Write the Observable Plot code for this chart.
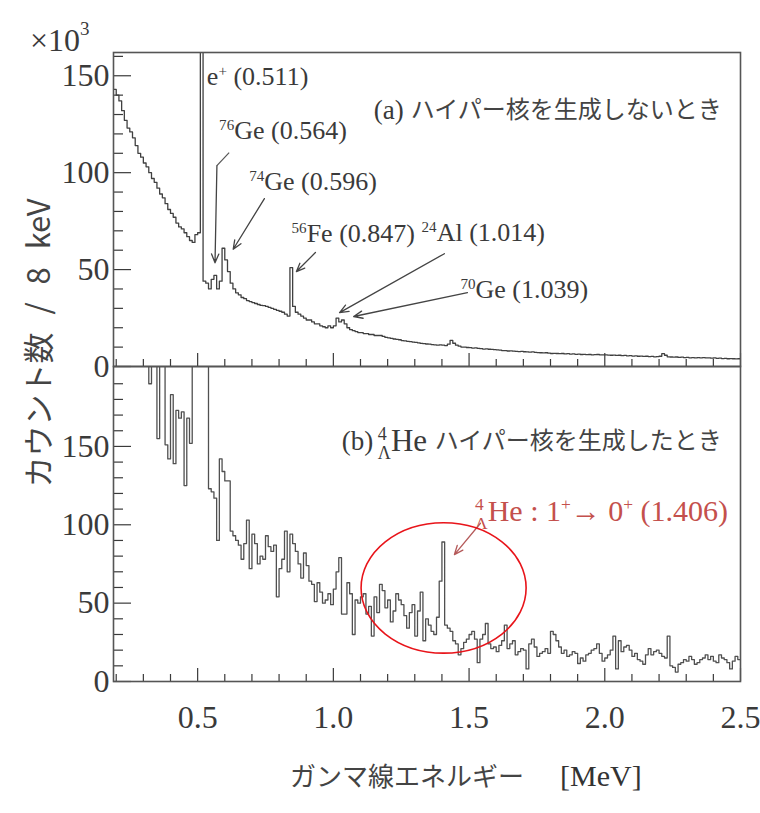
<!DOCTYPE html>
<html><head><meta charset="utf-8">
<script src="https://cdn.jsdelivr.net/npm/d3@7"></script>
<script src="https://cdn.jsdelivr.net/npm/@observablehq/plot@0.6"></script>
<style>
body{margin:0;background:#fff;}
#wrap{position:relative;width:760px;height:813px;overflow:hidden;}
#top{position:absolute;left:0;top:0;z-index:2;}
#bot{position:absolute;left:0;top:366px;z-index:1;}
.lab{position:absolute;white-space:nowrap;color:#3a3a3a;line-height:1;z-index:5;}
#exp{left:30px;top:22px;font:32px 'Liberation Serif',serif;}
#exp sup{font-size:19px;vertical-align:top;position:relative;top:-4px;}
#ytitle{left:36px;top:343px;transform:translate(-50%,-50%) rotate(-90deg);font:31px 'Noto Sans CJK JP',sans-serif;word-spacing:11px;color:#444;}
#xtitle{left:290px;top:756px;}
#xtitle .jp{font:26px 'Noto Sans CJK JP',sans-serif;color:#444;}
#xtitle .mev{font:30px 'Liberation Serif',serif;margin-left:36px;color:#333;}
</style></head><body>
<div id="wrap">
  <div id="top"></div>
  <div id="bot"></div>
  <div class="lab" id="exp">×10<sup>3</sup></div>
  <div class="lab" id="ytitle">カウント数 / 8 keV</div>
  <div class="lab" id="xtitle"><span class="jp">ガンマ線エネルギー</span><span class="mev">[MeV]</span></div>
</div>
<script>
// ---- data ----
const energyStart = 0.19;   // MeV, left edge of first bin
const binWidth = 0.01;      // MeV
// (a) without hypernucleus production, counts x10^3 per bin
const countsA = [
143,140,137,132,127,123,121,118,114,110,
108,105,103,100,97,95,92,89,87,84,
81,79,77,74,72,71,69,67,65,64,
68,69,400,44,43,40,45,47,40,44,
61,55,49,43,40,38,37,35.6,35,34,
33.5,33,32.5,32,31.5,31.4,31,30.5,30,29.5,
29,28.5,28,27,26,51,31,28,27,26,
25,24,24,23,22,22,21,20.5,20,21,
20,21,25,23,24,22,20,19,18.5,18,
17.5,17.5,17,17,16.5,16.5,16,16,16,15.5,
15,14.8,14.5,14.2,14,13.8,13.4,13.2,13,12.8,
12.6,12.4,12.2,11.9,11.8,11.6,11.5,11.3,11.2,11,
11.2,11,10.8,11.5,13.5,12,11,10.5,10,10,
9.8,9.7,9.5,9.6,9.3,9.2,9,9.1,8.9,8.8,
8.7,8.6,8.5,8.2,8.2,8.0,8.1,7.9,7.8,7.7,
7.8,7.6,7.5,7.4,7.5,7.3,7.2,7.1,7.0,7.1,
6.9,6.7,6.8,6.7,6.6,6.7,6.5,6.6,6.4,6.5,
6.3,6.4,6.2,6.3,6.1,6.2,6.0,6.1,6.2,6.0,
6.0,6.0,5.9,5.8,5.9,5.7,5.8,5.6,5.7,5.5,
5.6,5.4,5.5,5.3,5.4,5.2,5.3,5.1,5.2,5.0,
5.1,5.3,6.6,5.8,5.0,4.9,4.8,4.9,4.7,4.8,
4.6,4.7,4.5,4.6,4.4,4.6,4.5,4.6,4.4,4.5,
4.3,4.4,4.2,4.3,4.1,4.2,4.0,4.1,4.0,3.9,4.0
];
// (b) with 4_Lambda He hypernucleus production, counts per bin
const countsB = [
250,250,250,250,250,250,250,250,250,250,
250,250,250,190,250,250,155,250,250,151,
142,183,139,173,168,172,125,168,152,250,
250,250,250,250,250,123,121,117,90,142,
134,128,128,96,93,90,87,78,88,103,
72,94,88,75,80,78,93,86,83,87,
54,72,78,96,70,94,88,83,75,66,
82,74,64,62,51,63,57,50,52,56,
49,59,70,79,43,43,63,56,30,52,
50,54,56,43,48,29,54,44,62,58,
47,52,38,45,56,52,49,42,34,44,
49,29,45,57,26,40,36,32,30,41,
64,89,36,34,32,26,24,17,21,25,
27,30,32,27,12,27,30,37,24,21,
22,19,23,26,36,21,24,26,17,19,
21,20,8,24,27,22,16,18,19,21,
18,32,30,26,22,18,20,16,17,19,
18,11.5,15,13,17,18,20,21,24,18,
13,15,17,20,29,8,26,19,22,23,
20,16,18,14,13,11,17,21,17,19,
20,18,16,15,29,10,9,6,11,12,
14,13,16,14,11,12,14,15,17,14,
16,13,12,17,15,14,12,8,13,16,14
];
const xMajor = [0.5, 1.0, 1.5, 2.0, 2.5];
const xMinor = [0.2,0.3,0.4,0.6,0.7,0.8,0.9,1.1,1.2,1.3,1.4,1.6,1.7,1.8,1.9,2.1,2.2,2.3,2.4];
const yMajor = [0, 50, 100, 150];
const yMinorA = [10,20,30,40,60,70,80,90,110,120,130,140,160];
const yMinorB = [10,20,30,40,60,70,80,90,110,120,130,140,160,170,180,190];

// annotations (data coordinates)
const peakLabels = ["e^{+} (0.511)", "^{76}Ge (0.564)", "^{74}Ge (0.596)", "^{56}Fe (0.847)", "^{24}Al (1.014)", "^{70}Ge (1.039)"];
const peakLabelE = [0.534, 0.579, 0.69, 0.846, 1.325, 1.468];
const peakLabelC = [149.5, 121.6, 95.4, 68.6, 69, 39.7];
const peakArrows = [
  {x1: 0.571, y1: 103.6, x2: 0.564, y2: 53.5},
  {x1: 0.746, y1: 86.6, x2: 0.631, y2: 60.5},
  {x1: 0.934, y1: 58.8, x2: 0.864, y2: 49},
  {x1: 1.409, y1: 58.2, x2: 1.023, y2: 27.8},
  {x1: 1.494, y1: 38.1, x2: 1.075, y2: 25.8}
];
const leadLines = [{x1: 0.616, y1: 110.3, x2: 0.571, y2: 103.6}];

const SERIF = "Liberation Serif";
const JP = "Noto Sans CJK JP";
const INK = "#3a3a3a";

function hist(vals) {
  const pts = vals.map((v, i) => ({e: +(energyStart + i * binWidth).toFixed(3), v}));
  pts.push({e: +(energyStart + vals.length * binWidth).toFixed(3), v: vals[vals.length - 1]});
  return pts;
}

function ellipseMark(ce, cc, re, rc, stroke) {
  return (index, scales) => {
    const el = document.createElementNS("http://www.w3.org/2000/svg", "ellipse");
    const cx = scales.x(ce), cy = scales.y(cc);
    el.setAttribute("cx", cx);
    el.setAttribute("cy", cy);
    el.setAttribute("rx", Math.abs(scales.x(ce + re) - cx));
    el.setAttribute("ry", Math.abs(scales.y(cc + rc) - cy));
    el.setAttribute("fill", "none");
    el.setAttribute("stroke", stroke);
    el.setAttribute("stroke-width", 1.6);
    return el;
  };
}

function axes(yMinor, withXLabels) {
  const m = [
    Plot.axisY(yMajor, {tickSize: -18, tickFormat: () => "", label: null, stroke: INK, strokeWidth: 1.2}),
    Plot.axisY(yMinor, {tickSize: -10, tickFormat: () => "", label: null, stroke: INK, strokeWidth: 1.2}),
    Plot.axisY(yMajor, {tickSize: 0, tickPadding: 4, fontSize: 32, fontFamily: SERIF, label: null, fill: INK}),
    Plot.axisX(xMajor, {tickSize: -13, tickFormat: () => "", label: null, stroke: INK, strokeWidth: 1.2}),
    Plot.axisX(xMinor, {tickSize: -7, tickFormat: () => "", label: null, stroke: INK, strokeWidth: 1.2})
  ];
  if (withXLabels) m.push(Plot.axisX(xMajor, {tickSize: 0, tickPadding: 24, fontSize: 32, fontFamily: SERIF, label: null, fill: INK, tickFormat: d3.format(".1f")}));
  return m;
}

const topPlot = Plot.plot({
  width: 760, height: 366,
  marginLeft: 113, marginRight: 20, marginTop: 52, marginBottom: 0,
  x: {domain: [0.19, 2.5]},
  y: {domain: [0, 162]},
  style: {fontFamily: SERIF, background: "transparent", color: INK},
  marks: [
    Plot.line(hist(countsA), {x: "e", y: "v", curve: "step-after", stroke: "#404040", strokeWidth: 1.3, clip: true}),
    ...axes(yMinorA, false),
    Plot.frame({stroke: "#555", strokeWidth: 1.6}),
    Plot.text(peakLabels, {x: (d, i) => peakLabelE[i], y: (d, i) => peakLabelC[i], text: d => d, textAnchor: "start", fontSize: 26, fontFamily: SERIF, fill: INK}),
    Plot.link(leadLines, {x1: "x1", y1: "y1", x2: "x2", y2: "y2", stroke: "#555", strokeWidth: 1.2}),
    Plot.arrow(peakArrows, {x1: "x1", y1: "y1", x2: "x2", y2: "y2", stroke: "#444", strokeWidth: 1.3, headLength: 11, headAngle: 45}),
    Plot.text(["(a)"], {x: 1.149, y: 132, text: d => d, textAnchor: "start", fontSize: 27, fontFamily: SERIF, fill: INK}),
    Plot.text(["ハイパー核を生成しないとき"], {x: 2.431, y: 132, text: d => d, textAnchor: "end", fontSize: 24, fontFamily: JP, fill: "#444"})
  ]
});

const botPlot = Plot.plot({
  width: 760, height: 447,
  marginLeft: 113, marginRight: 20, marginTop: 0, marginBottom: 132,
  x: {domain: [0.19, 2.5]},
  y: {domain: [0, 201]},
  style: {fontFamily: SERIF, background: "white", color: INK},
  marks: [
    Plot.line(hist(countsB), {x: "e", y: "v", curve: "step-after", stroke: "#505050", strokeWidth: 1.3, clip: true}),
    ...axes(yMinorB, true),
    Plot.frame({stroke: "#555", strokeWidth: 1.6}),
    Plot.text(["(b)"], {x: 1.031, y: 153.4, text: d => d, textAnchor: "start", fontSize: 27, fontFamily: SERIF, fill: INK}),
    Plot.text(["^{4}_{Λ}He"], {x: 1.164, y: 153.4, text: d => d, textAnchor: "start", fontSize: 31, fontFamily: SERIF, fill: INK}),
    Plot.text(["ハイパー核を生成したとき"], {x: 2.431, y: 153.4, text: d => d, textAnchor: "end", fontSize: 24, fontFamily: JP, fill: "#444"}),
    Plot.text(["^{4}_{Λ}He : 1^{+}→ 0^{+} (1.406)"], {x: 1.522, y: 108.6, text: d => d, textAnchor: "start", fontSize: 30, fontFamily: SERIF, fill: "#c4504c"}),
    Plot.arrow([{x1: 1.542, y1: 101, x2: 1.446, y2: 81}], {x1: "x1", y1: "y1", x2: "x2", y2: "y2", stroke: "#b55a5a", strokeWidth: 1.3, headLength: 11, headAngle: 45}),
    ellipseMark(1.408, 59.4, 0.304, 41.6, "#e8141a")
  ]
});

topPlot.style.overflow = "visible";
botPlot.style.overflow = "visible";
document.getElementById("top").appendChild(topPlot);
document.getElementById("bot").appendChild(botPlot);

// sub/superscript markup -> tspans
function richify(root) {
  const NS = "http://www.w3.org/2000/svg";
  root.querySelectorAll("text").forEach(t => {
    const s = t.textContent;
    if (!/[\^_]\{/.test(s)) return;
    const fs = parseFloat(getComputedStyle(t).fontSize) || 16;
    const tokens = s.match(/\^\{[^}]*\}|_\{[^}]*\}|[^\^_]+/g);
    t.textContent = "";
    let cur = 0, prev = null, prevKind = null;
    for (const tok of tokens) {
      let kind = "n", str = tok;
      if (tok.startsWith("^{")) { kind = "sup"; str = tok.slice(2, -1); }
      else if (tok.startsWith("_{")) { kind = "sub"; str = tok.slice(2, -1); }
      const ts = document.createElementNS(NS, "tspan");
      const target = kind === "sup" ? -0.36 * fs : kind === "sub" ? 0.26 * fs : 0;
      const dy = target - cur; cur = target;
      if (dy) ts.setAttribute("dy", dy.toFixed(2));
      if (kind !== "n") ts.setAttribute("font-size", (0.58 * fs).toFixed(1));
      if (kind === "sub" && prevKind === "sup" && prev) ts.setAttribute("dx", (-prev.getComputedTextLength()).toFixed(2));
      ts.textContent = str;
      t.appendChild(ts);
      prev = ts; prevKind = kind;
    }
  });
}
richify(topPlot);
richify(botPlot);
</script>
</body></html>
